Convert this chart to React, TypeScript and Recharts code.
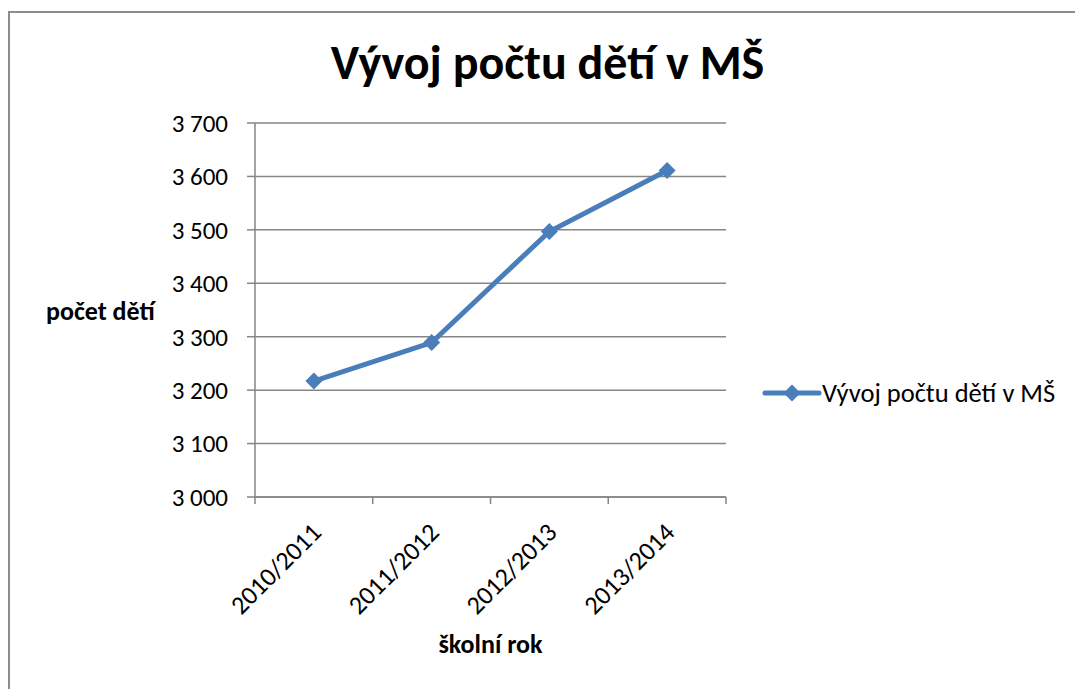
import { LineChart, Line, XAxis, YAxis, CartesianGrid, Legend, Label } from 'recharts';

const years = ['2010/2011', '2011/2012', '2012/2013', '2013/2014'];
const children = [3217, 3289, 3497, 3611];
const yTicks = [3000, 3100, 3200, 3300, 3400, 3500, 3600, 3700];
const seriesName = 'Vývoj počtu dětí v MŠ';

const data = years.map((year, idx) => ({ idx, year, value: children[idx] }));
// category centres carry the labels, half steps carry Excel-style boundary tick marks
const xTicks = years.flatMap((_, i) => [i - 0.5, i]).concat(years.length - 0.5);

const FONT = 'Calibri, Carlito, Lato, sans-serif';
const BLUE = '#4a7ebb';
const GRAY = '#868686';

const formatThousands = (v: number) =>
  `${Math.floor(v / 1000)} ${String(v % 1000).padStart(3, '0')}`;

function Diamond(props: any) {
  const { cx, cy } = props;
  if (cx == null || cy == null) return null;
  const s = 8.5;
  return (
    <polygon
      points={`${cx},${cy - s} ${cx + s},${cy} ${cx},${cy + s} ${cx - s},${cy}`}
      fill={BLUE}
    />
  );
}

function YearTick(props: any) {
  const { x, y, payload } = props;
  const v = payload.value as number;
  if (!Number.isInteger(v)) {
    return <line x1={x} y1={y} x2={x} y2={y + 7} stroke={GRAY} strokeWidth={1.5} />;
  }
  return (
    <g transform={`translate(${x + 9},${y + 37}) rotate(-45)`}>
      <text x={0} y={0} textAnchor="end" fontSize={26} fontFamily={FONT} fill="#000">
        {years[v]}
      </text>
    </g>
  );
}

function LegendContent() {
  return (
    <div style={{ display: 'flex', alignItems: 'center', fontFamily: FONT, fontSize: 26.5, color: '#000', whiteSpace: 'nowrap' }}>
      <svg width={60} height={20}>
        <line x1={3} y1={10} x2={57} y2={10} stroke={BLUE} strokeWidth={5} strokeLinecap="round" />
        <polygon points="30,1.5 38.5,10 30,18.5 21.5,10" fill={BLUE} />
      </svg>
      <span>{seriesName}</span>
    </div>
  );
}

export default function App() {
  return (
    <div style={{ position: 'absolute', left: 0, top: 0, width: 1075, height: 689, overflow: 'hidden', background: '#fff' }}>
      <div
        style={{
          position: 'absolute',
          left: 8,
          top: 11,
          width: 1200,
          height: 800,
          borderLeft: '2px solid #8c8c8c',
          borderTop: '2px solid #8c8c8c',
        }}
      />
      <div
        style={{
          position: 'absolute',
          left: 0,
          width: 1095,
          top: 34,
          lineHeight: '58px',
          textAlign: 'center',
          fontFamily: FONT,
          fontWeight: 'bold',
          fontSize: 48,
          color: '#000',
        }}
      >
        {seriesName}
      </div>
      <div style={{ position: 'absolute', left: 0, top: 0 }}>
        <LineChart width={1075} height={689} data={data} margin={{ top: 123, right: 349, bottom: 0, left: 0 }}>
          <CartesianGrid vertical={false} stroke={GRAY} strokeWidth={1.5} />
          <XAxis
            dataKey="idx"
            type="number"
            domain={[-0.5, years.length - 0.5]}
            allowDataOverflow
            ticks={xTicks}
            interval={0}
            tick={<YearTick />}
            tickLine={false}
            tickSize={0}
            tickMargin={0}
            height={192}
            stroke={GRAY}
            strokeWidth={1.5}
          >
            <Label
              content={(p: any) => {
                const vb = p.viewBox;
                return (
                  <text
                    x={vb.x + vb.width / 2}
                    y={vb.y + 156}
                    textAnchor="middle"
                    fontFamily={FONT}
                    fontWeight="bold"
                    fontSize={26}
                    fill="#000"
                  >
                    školní rok
                  </text>
                );
              }}
            />
          </XAxis>
          <YAxis
            domain={[3000, 3700]}
            ticks={yTicks}
            allowDataOverflow
            width={255}
            tickFormatter={formatThousands}
            tick={{ fontSize: 25, fontFamily: FONT, fill: '#000' }}
            tickSize={8}
            tickMargin={19}
            stroke={GRAY}
            strokeWidth={1.5}
          >
            <Label
              content={(p: any) => {
                const vb = p.viewBox;
                return (
                  <text
                    x={46}
                    y={vb.y + vb.height / 2 + 10}
                    textAnchor="start"
                    fontFamily={FONT}
                    fontWeight="bold"
                    fontSize={26}
                    fill="#000"
                  >
                    počet dětí
                  </text>
                );
              }}
            />
          </YAxis>
          <Legend
            layout="vertical"
            align="center"
            verticalAlign="middle"
            content={<LegendContent />}
            wrapperStyle={{ left: 762, top: 377, width: 320 }}
          />
          <Line
            dataKey="value"
            name={seriesName}
            stroke={BLUE}
            strokeWidth={5}
            dot={<Diamond />}
            activeDot={false}
            isAnimationActive={false}
          />
        </LineChart>
      </div>
    </div>
  );
}
